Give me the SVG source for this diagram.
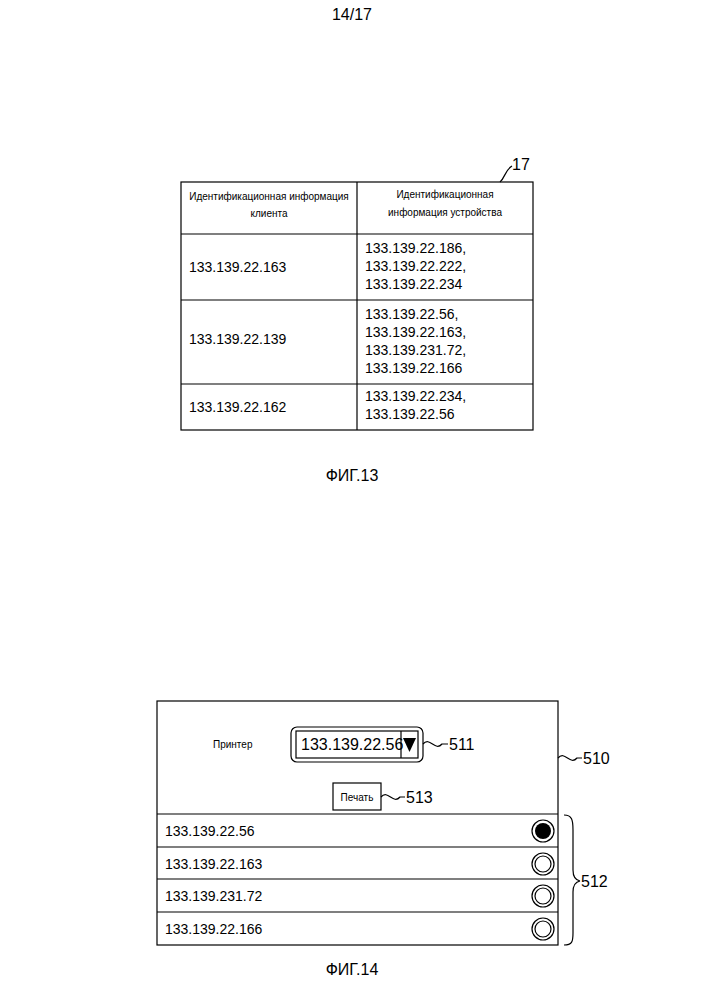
<svg xmlns="http://www.w3.org/2000/svg" width="704" height="1000" viewBox="0 0 704 1000">
<style>
text{font-family:"Liberation Sans",Arial,sans-serif;fill:#000}
.s{font-size:10px}.m{font-size:14px}.l{font-size:16px}
.ln{fill:none;stroke:#000;stroke-width:1.2}
</style>
<rect width="704" height="1000" fill="#fff"/>
<text class="l" x="352" y="20" text-anchor="middle">14/17</text>
<g id="table17">
<rect class="ln" x="181" y="182" width="352" height="248"/>
<line class="ln" x1="357" y1="182" x2="357" y2="430"/>
<line class="ln" x1="181" y1="234" x2="533" y2="234"/>
<line class="ln" x1="181" y1="300" x2="533" y2="300"/>
<line class="ln" x1="181" y1="384" x2="533" y2="384"/>
<text class="s" x="269" y="200" text-anchor="middle">Идентификационная информация</text>
<text class="s" x="269" y="217" text-anchor="middle">клиента</text>
<text class="s" x="445" y="198" text-anchor="middle">Идентификационная</text>
<text class="s" x="445" y="216" text-anchor="middle">информация устройства</text>
<text class="m" x="189" y="272">133.139.22.163</text>
<text class="m" x="365" y="253">133.139.22.186,</text>
<text class="m" x="365" y="271">133.139.22.222,</text>
<text class="m" x="365" y="289">133.139.22.234</text>
<text class="m" x="189" y="344">133.139.22.139</text>
<text class="m" x="365" y="319">133.139.22.56,</text>
<text class="m" x="365" y="337">133.139.22.163,</text>
<text class="m" x="365" y="355">133.139.231.72,</text>
<text class="m" x="365" y="373">133.139.22.166</text>
<text class="m" x="189" y="412">133.139.22.162</text>
<text class="m" x="365" y="401">133.139.22.234,</text>
<text class="m" x="365" y="419">133.139.22.56</text>
</g>
<g id="label17">
<path class="ln" d="M500 182 C505 178,505 170,512 166"/>
<text class="l" x="512" y="170">17</text>
</g>
<text class="l" x="352" y="481" text-anchor="middle">ФИГ.13</text>
<g id="screen510">
<rect class="ln" x="157" y="701" width="401" height="244"/>
<line class="ln" x1="157" y1="814" x2="558" y2="814"/>
<text class="s" x="213" y="748">Принтер</text>
</g>
<g id="dropdown511">
<rect class="ln" x="291" y="727" width="132" height="35" rx="6"/>
<rect class="ln" x="296" y="731" width="122" height="27"/>
<line class="ln" x1="401" y1="731" x2="401" y2="758"/>
<text class="l" x="301" y="750">133.139.22.56</text>
<path d="M403 738 L416 738 L409.5 752 Z" fill="#000"/>
</g>
<g id="button513">
<rect class="ln" x="333" y="783" width="48" height="27"/>
<text class="s" x="357" y="801" text-anchor="middle">Печать</text>
</g>
<g id="list512">
<line class="ln" x1="157" y1="847" x2="558" y2="847"/>
<line class="ln" x1="157" y1="879" x2="558" y2="879"/>
<line class="ln" x1="157" y1="912" x2="558" y2="912"/>
<text class="m" x="165" y="836">133.139.22.56</text>
<text class="m" x="165" y="869">133.139.22.163</text>
<text class="m" x="165" y="901">133.139.231.72</text>
<text class="m" x="165" y="934">133.139.22.166</text>
<circle class="ln" cx="543" cy="831" r="11"/><circle cx="543" cy="831" r="8"/>
<circle class="ln" cx="543" cy="864" r="11"/><circle class="ln" cx="543" cy="864" r="8"/>
<circle class="ln" cx="543" cy="896" r="11"/><circle class="ln" cx="543" cy="896" r="8"/>
<circle class="ln" cx="543" cy="929" r="11"/><circle class="ln" cx="543" cy="929" r="8"/>
</g>
<g id="connectors">
<path class="ln" d="M423 744 C430 736,435 752,442 744 L448 744"/>
<path class="ln" d="M558 758 C565 750,570 766,577 758 L582 758"/>
<path class="ln" d="M381 797 C388 789,393 805,400 797 L405 797"/>
<path class="ln" d="M564 815 C572 815,573 820,573 830 L573 870 C573 877,575 880,580 881 C575 882,573 885,573 892 L573 933 C573 942,572 945,564 945"/>
</g>
<text class="l" x="449" y="750">511</text>
<text class="l" x="583" y="764">510</text>
<text class="l" x="406" y="803">513</text>
<text class="l" x="581" y="887">512</text>
<text class="l" x="352" y="975" text-anchor="middle">ФИГ.14</text>
</svg>
